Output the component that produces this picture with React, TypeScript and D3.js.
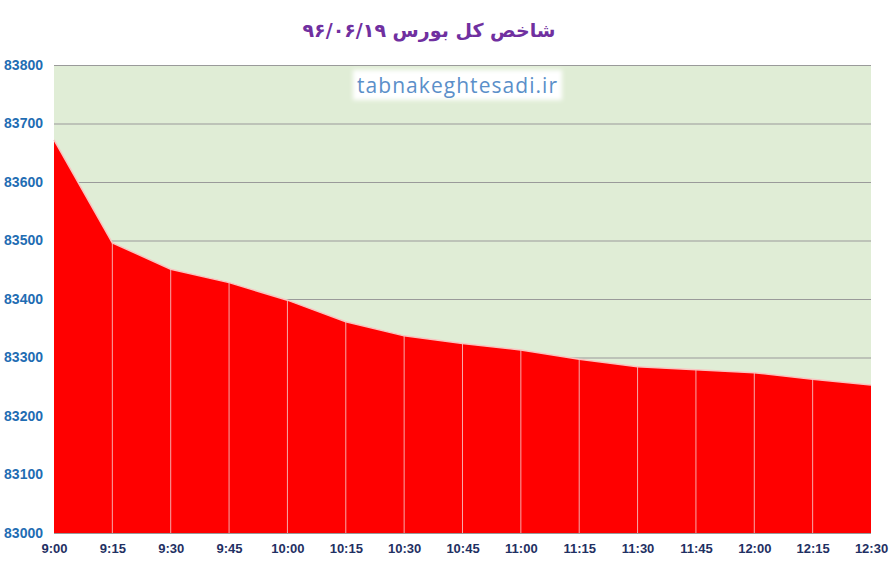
import React, { useEffect, useRef } from "react";
import { area, axisBottom, axisLeft, line, scaleLinear, scalePoint, select } from "d3";

// Tweakables
const times = [
  "9:00", "9:15", "9:30", "9:45", "10:00", "10:15", "10:30", "10:45",
  "11:00", "11:15", "11:30", "11:45", "12:00", "12:15", "12:30",
];
const indexValues = [
  83672, 83496, 83451, 83428, 83398, 83361, 83337, 83324,
  83313, 83297, 83284, 83279, 83274, 83263, 83253,
];
const yTicks = [83000, 83100, 83200, 83300, 83400, 83500, 83600, 83700, 83800];
const title = "شاخص کل بورس ۹۶/۰۶/۱۹";
const watermark = "tabnakeghtesadi.ir";

const width = 895;
const height = 568;
const margin = { top: 65, right: 24, bottom: 35, left: 54 };

const App = () => {
  const ref = useRef<SVGSVGElement>(null);

  useEffect(() => {
    const svg = select(ref.current);
    svg.selectAll("*").remove();

    const x = scalePoint<string>()
      .domain(times)
      .range([margin.left, width - margin.right]);
    const y = scaleLinear()
      .domain([83000, 83800])
      .range([height - margin.bottom, margin.top]);

    const data = times.map((t, i) => ({ t, v: indexValues[i] }));

    // plot background
    svg
      .append("rect")
      .attr("x", margin.left)
      .attr("y", margin.top)
      .attr("width", width - margin.right - margin.left)
      .attr("height", height - margin.bottom - margin.top)
      .attr("fill", "#e0edd6");

    // grid + y labels
    const yAxis = svg
      .append("g")
      .attr("transform", `translate(${margin.left},0)`)
      .call(
        axisLeft(y)
          .tickValues(yTicks)
          .tickFormat((d) => String(d))
          .tickSize(-(width - margin.left - margin.right))
          .tickPadding(11)
      );
    yAxis.select(".domain").remove();
    yAxis.selectAll(".tick line").attr("stroke", "#9a9a9a").attr("stroke-width", 1.2);
    yAxis
      .selectAll(".tick text")
      .attr("fill", "#1f6db3")
      .attr("font-family", "'Liberation Sans', Arial, sans-serif")
      .attr("font-weight", "bold")
      .attr("font-size", 14);

    // red area
    svg
      .append("path")
      .datum(data)
      .attr(
        "d",
        area<{ t: string; v: number }>()
          .x((d) => x(d.t)!)
          .y0(y(83000))
          .y1((d) => y(d.v))
      )
      .attr("fill", "#ff0000");

    // drop lines
    svg
      .append("g")
      .selectAll("line")
      .data(data.slice(1, -1))
      .join("line")
      .attr("x1", (d) => x(d.t)!)
      .attr("x2", (d) => x(d.t)!)
      .attr("y1", (d) => y(d.v))
      .attr("y2", y(83000))
      .attr("stroke", "#f6a9a9")
      .attr("stroke-width", 1);

    // area outline
    svg
      .append("path")
      .datum(data)
      .attr(
        "d",
        line<{ t: string; v: number }>()
          .x((d) => x(d.t)!)
          .y((d) => y(d.v))
      )
      .attr("fill", "none")
      .attr("stroke", "#f9c4c0")
      .attr("stroke-width", 1.5);

    // x labels
    const xAxis = svg
      .append("g")
      .attr("transform", `translate(0,${height - margin.bottom})`)
      .call(axisBottom(x).tickSize(0).tickPadding(11));
    xAxis.select(".domain").remove();
    xAxis
      .selectAll(".tick text")
      .attr("fill", "#1f3063")
      .attr("font-family", "'Liberation Sans', Arial, sans-serif")
      .attr("font-weight", "bold")
      .attr("font-size", 13);

    // title
    svg
      .append("text")
      .attr("x", 429)
      .attr("y", 37)
      .attr("text-anchor", "middle")
      .attr("direction", "rtl")
      .attr("fill", "#7030a0")
      .attr("font-family", "'DejaVu Sans', sans-serif")
      .attr("font-weight", "bold")
      .attr("font-size", 19)
      .text(title);

    // watermark
    const defs = svg.append("defs");
    defs
      .append("filter")
      .attr("id", "glow")
      .attr("x", "-10%")
      .attr("y", "-30%")
      .attr("width", "120%")
      .attr("height", "160%")
      .append("feGaussianBlur")
      .attr("stdDeviation", 2);
    svg
      .append("rect")
      .attr("x", 353)
      .attr("y", 70)
      .attr("width", 209)
      .attr("height", 30)
      .attr("fill", "#ffffff")
      .attr("filter", "url(#glow)");
    svg
      .append("text")
      .attr("x", 457)
      .attr("y", 93)
      .attr("text-anchor", "middle")
      .attr("fill", "#5b8fc9")
      .attr("font-family", "'Open Sans', sans-serif")
      .attr("font-size", 21)
      .attr("textLength", 200)
      .text(watermark);
  }, []);

  return (
    <div style={{ padding: 0 }}>
      <svg
        ref={ref}
        width={width}
        height={height}
        style={{ position: "absolute", left: 0, top: 0, background: "#fff" }}
      ></svg>
    </div>
  );
};

export default App;
